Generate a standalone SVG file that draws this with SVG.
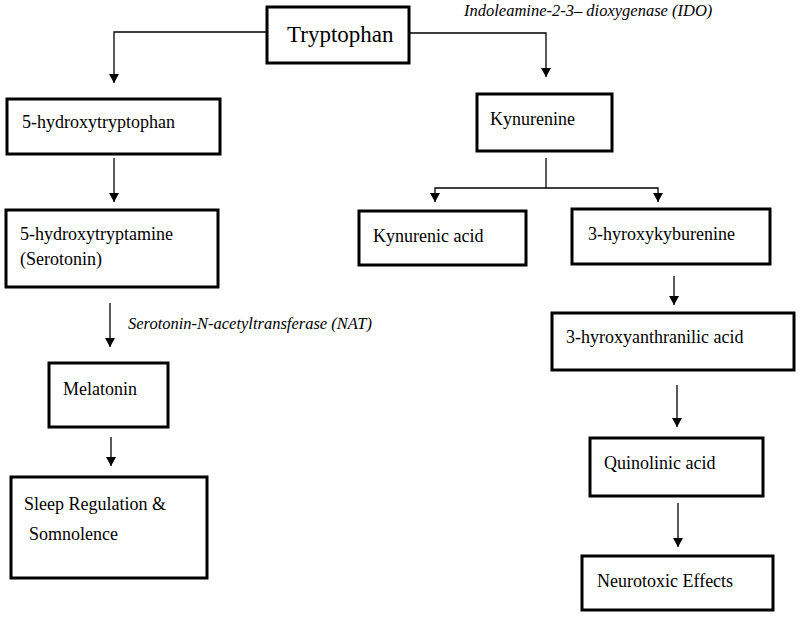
<svg xmlns="http://www.w3.org/2000/svg" width="800" height="619" viewBox="0 0 800 619">
<style>
  .box { fill: #fff; stroke: #000; stroke-width: 3; }
  .t { font-family: "Liberation Serif", "Times New Roman", serif; font-size: 18px; fill: #000; }
  .big { font-size: 23px; }
  .it { font-style: italic; font-size: 16.5px; }
  .c { fill: none; stroke: #000; stroke-width: 1.3; }
</style>
<defs>
  <marker id="ah" markerUnits="userSpaceOnUse" markerWidth="10" markerHeight="10" refX="9" refY="5" orient="auto">
    <path d="M0,0 L9,5 L0,10 Z" fill="#000"/>
  </marker>
</defs>
<rect width="800" height="619" fill="#fff"/>

<g id="connectors">
  <path class="c" d="M267,32 H114 V83" marker-end="url(#ah)"/>
  <path class="c" d="M409,33 H546 V77" marker-end="url(#ah)"/>
  <path class="c" d="M114,158 V202" marker-end="url(#ah)"/>
  <path class="c" d="M110,303 V347" marker-end="url(#ah)"/>
  <path class="c" d="M111,437 V466" marker-end="url(#ah)"/>
  <path class="c" d="M546,158 V188"/>
  <path class="c" d="M546,188 H435 V202" marker-end="url(#ah)"/>
  <path class="c" d="M546,188 H658 V202" marker-end="url(#ah)"/>
  <path class="c" d="M674,276 V305" marker-end="url(#ah)"/>
  <path class="c" d="M677,385 V427" marker-end="url(#ah)"/>
  <path class="c" d="M678,503 V547" marker-end="url(#ah)"/>
  <text class="t it" x="464" y="16">Indoleamine-2-3– dioxygenase (IDO)</text>
  <text class="t it" x="128" y="329">Serotonin-N-acetyltransferase (NAT)</text>
</g>

<g id="tryptophan">
  <rect class="box" x="267" y="7" width="142" height="56"/>
  <text class="t big" x="287" y="42">Tryptophan</text>
</g>
<g id="hydroxytryptophan">
  <rect class="box" x="7" y="99" width="213" height="55"/>
  <text class="t" x="22" y="128">5-hydroxytryptophan</text>
</g>
<g id="serotonin">
  <rect class="box" x="6" y="210" width="212" height="77"/>
  <text class="t" x="20" y="240">5-hydroxytryptamine</text>
  <text class="t" x="20" y="265">(Serotonin)</text>
</g>
<g id="melatonin">
  <rect class="box" x="49" y="363" width="119" height="64"/>
  <text class="t" x="63" y="395">Melatonin</text>
</g>
<g id="sleep">
  <rect class="box" x="11" y="477" width="196" height="101"/>
  <text class="t" x="24" y="510">Sleep Regulation &amp;</text>
  <text class="t" x="29" y="540">Somnolence</text>
</g>
<g id="kynurenine">
  <rect class="box" x="477" y="94" width="135" height="57"/>
  <text class="t" x="490" y="125">Kynurenine</text>
</g>
<g id="kynurenic-acid">
  <rect class="box" x="359" y="211" width="167" height="54"/>
  <text class="t" x="373" y="242">Kynurenic acid</text>
</g>
<g id="hydroxykynurenine">
  <rect class="box" x="572" y="209" width="198" height="55"/>
  <text class="t" x="588" y="240">3-hyroxykyburenine</text>
</g>
<g id="hydroxyanthranilic">
  <rect class="box" x="552" y="313" width="242" height="57"/>
  <text class="t" x="566" y="343">3-hyroxyanthranilic acid</text>
</g>
<g id="quinolinic">
  <rect class="box" x="590" y="438" width="173" height="58"/>
  <text class="t" x="604" y="469">Quinolinic acid</text>
</g>
<g id="neurotoxic">
  <rect class="box" x="582" y="556" width="191" height="54"/>
  <text class="t" x="597" y="587">Neurotoxic Effects</text>
</g>
</svg>
